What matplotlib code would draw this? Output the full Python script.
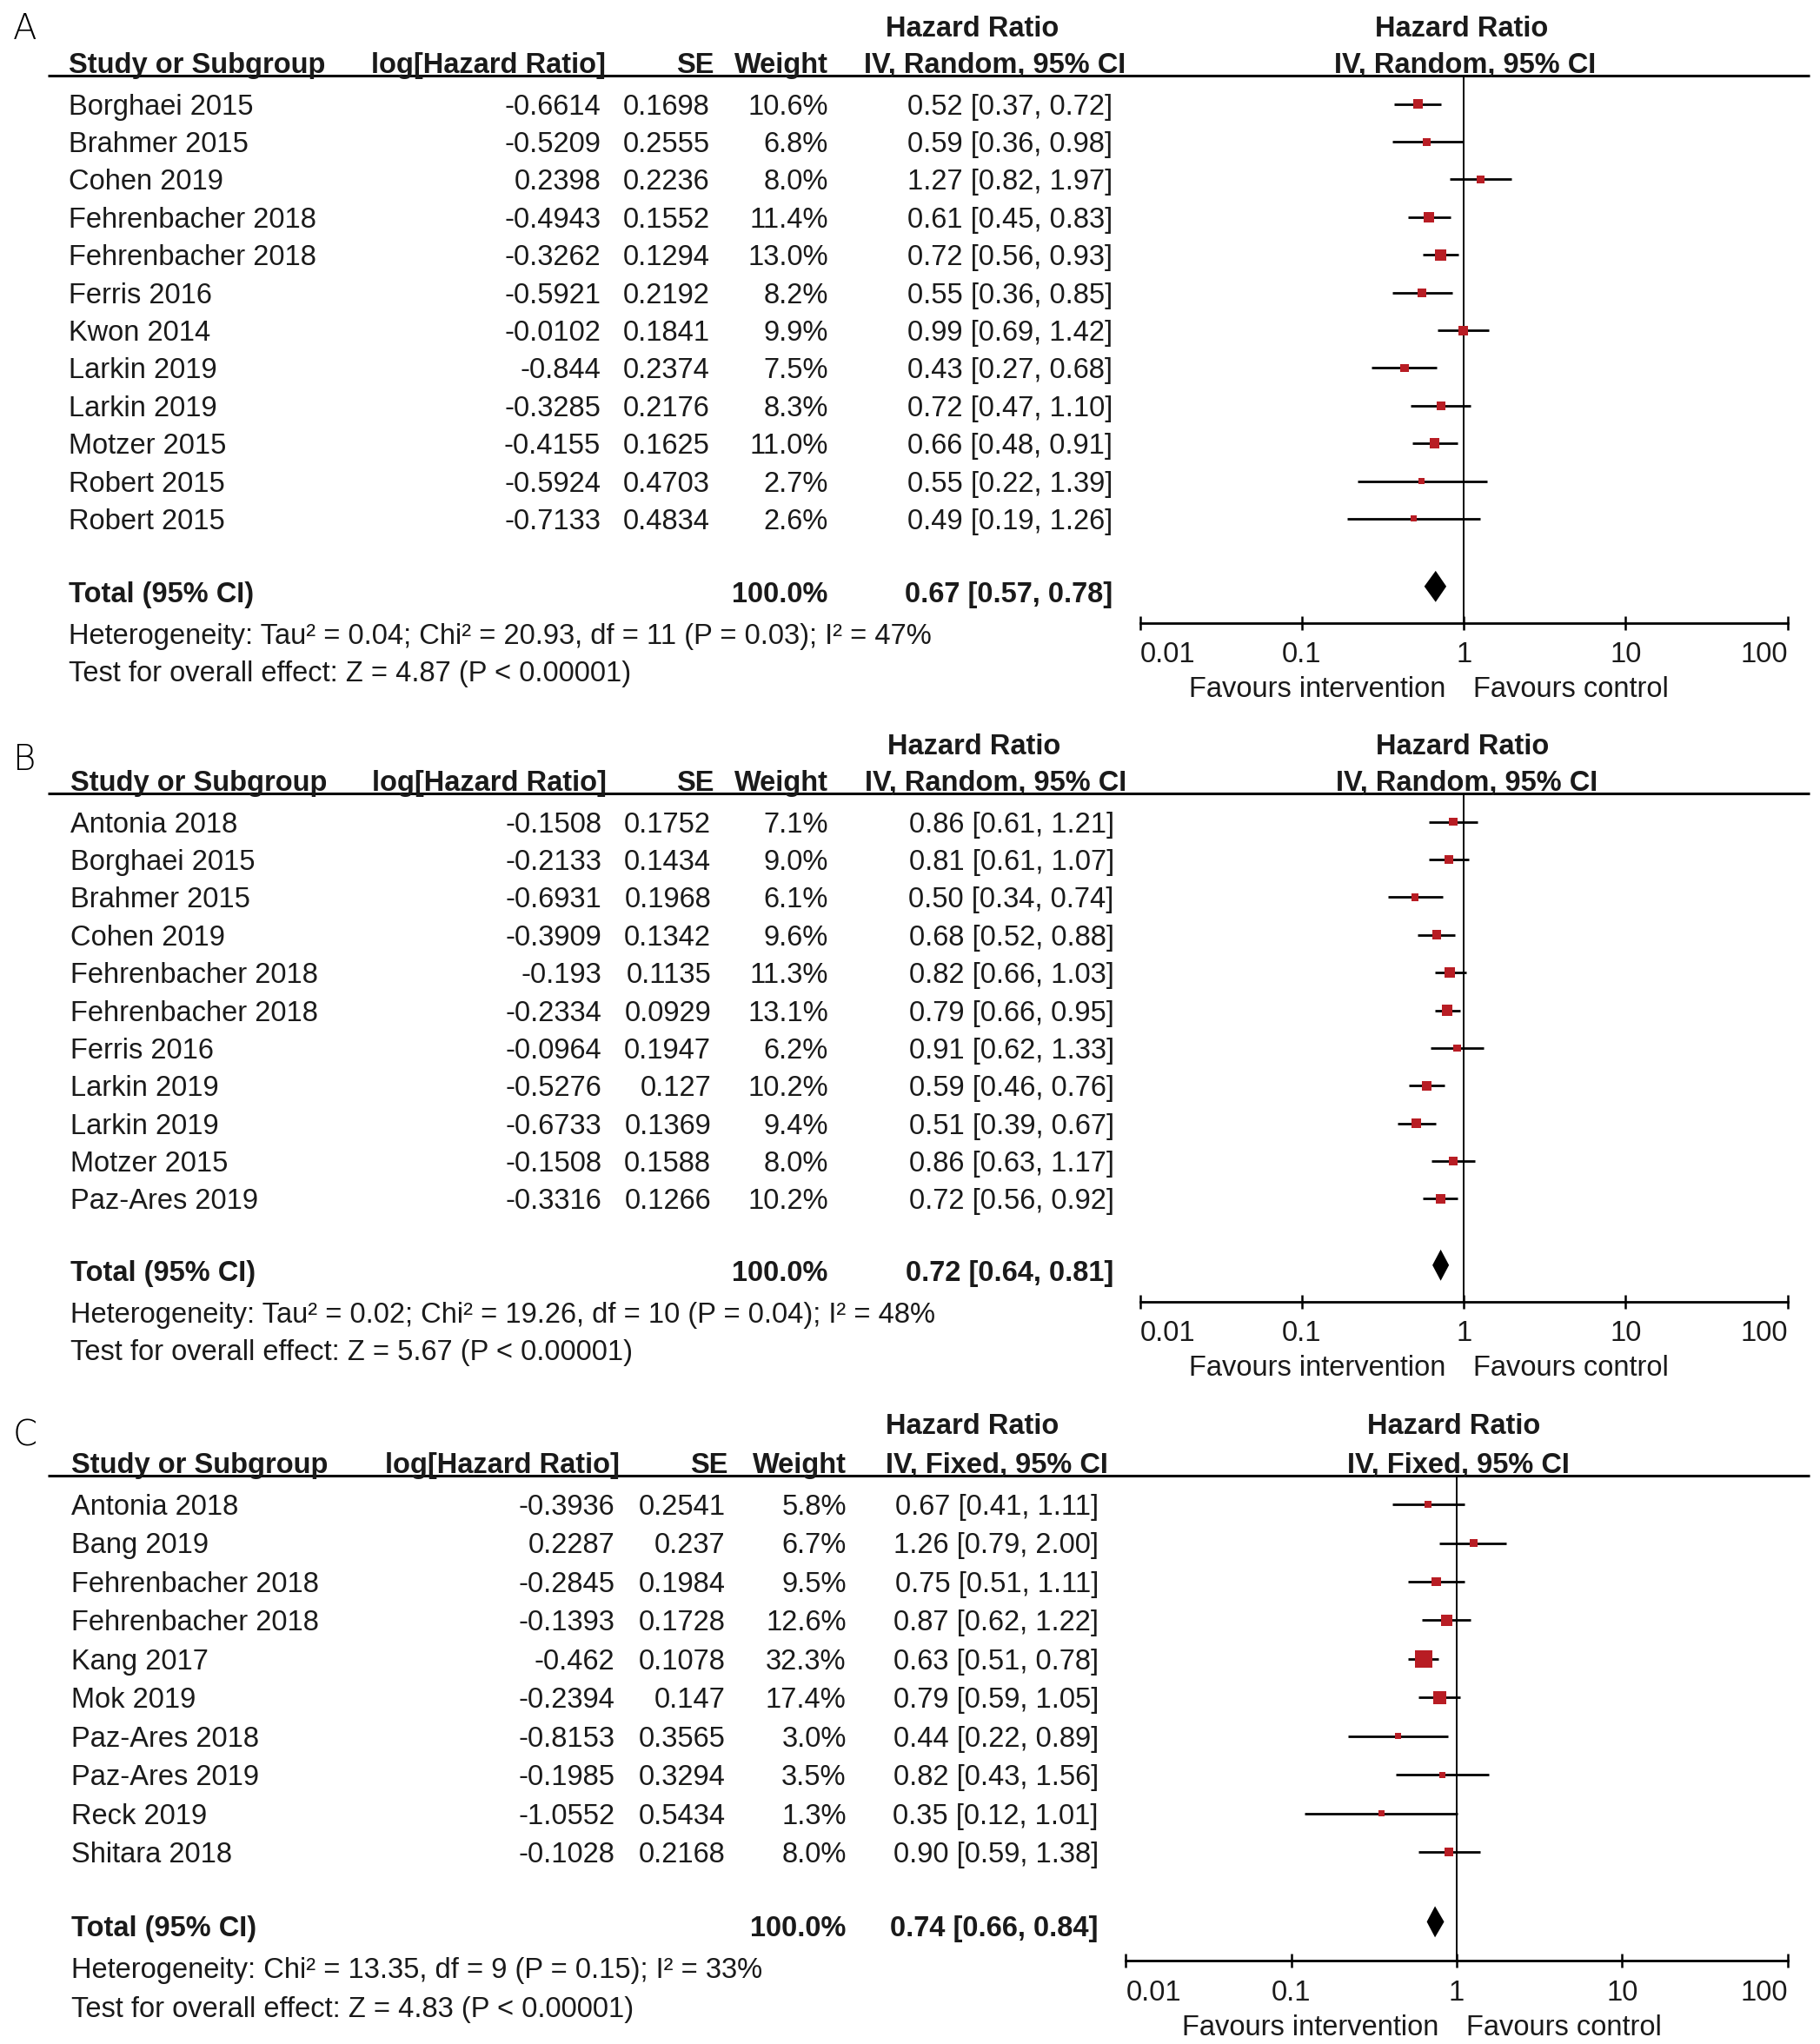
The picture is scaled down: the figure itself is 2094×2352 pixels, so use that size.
"""Three-panel forest plot (RevMan style) for hazard ratios, panels A/B/C."""
import matplotlib
matplotlib.use("Agg")
import matplotlib.pyplot as plt
import numpy as np
from matplotlib.ticker import NullLocator

plt.rcParams["font.family"] = ["Liberation Sans", "DejaVu Sans"]

# ---- panel A: random effects ----
a_study = ["Borghaei 2015", "Brahmer 2015", "Cohen 2019", "Fehrenbacher 2018",
           "Fehrenbacher 2018", "Ferris 2016", "Kwon 2014", "Larkin 2019",
           "Larkin 2019", "Motzer 2015", "Robert 2015", "Robert 2015"]
a_loghr = [-0.6614, -0.5209, 0.2398, -0.4943, -0.3262, -0.5921, -0.0102, -0.844,
           -0.3285, -0.4155, -0.5924, -0.7133]
a_se = [0.1698, 0.2555, 0.2236, 0.1552, 0.1294, 0.2192, 0.1841, 0.2374,
        0.2176, 0.1625, 0.4703, 0.4834]
a_weight = [10.6, 6.8, 8.0, 11.4, 13.0, 8.2, 9.9, 7.5, 8.3, 11.0, 2.7, 2.6]
a_hr = [0.52, 0.59, 1.27, 0.61, 0.72, 0.55, 0.99, 0.43, 0.72, 0.66, 0.55, 0.49]
a_lo = [0.37, 0.36, 0.82, 0.45, 0.56, 0.36, 0.69, 0.27, 0.47, 0.48, 0.22, 0.19]
a_hi = [0.72, 0.98, 1.97, 0.83, 0.93, 0.85, 1.42, 0.68, 1.10, 0.91, 1.39, 1.26]
a_total = [0.67, 0.57, 0.78]
a_het = "Heterogeneity: Tau² = 0.04; Chi² = 20.93, df = 11 (P = 0.03); I² = 47%"
a_test = "Test for overall effect: Z = 4.87 (P < 0.00001)"

# ---- panel B: random effects ----
b_study = ["Antonia 2018", "Borghaei 2015", "Brahmer 2015", "Cohen 2019",
           "Fehrenbacher 2018", "Fehrenbacher 2018", "Ferris 2016", "Larkin 2019",
           "Larkin 2019", "Motzer 2015", "Paz-Ares 2019"]
b_loghr = [-0.1508, -0.2133, -0.6931, -0.3909, -0.193, -0.2334, -0.0964, -0.5276,
           -0.6733, -0.1508, -0.3316]
b_se = [0.1752, 0.1434, 0.1968, 0.1342, 0.1135, 0.0929, 0.1947, 0.127,
        0.1369, 0.1588, 0.1266]
b_weight = [7.1, 9.0, 6.1, 9.6, 11.3, 13.1, 6.2, 10.2, 9.4, 8.0, 10.2]
b_hr = [0.86, 0.81, 0.50, 0.68, 0.82, 0.79, 0.91, 0.59, 0.51, 0.86, 0.72]
b_lo = [0.61, 0.61, 0.34, 0.52, 0.66, 0.66, 0.62, 0.46, 0.39, 0.63, 0.56]
b_hi = [1.21, 1.07, 0.74, 0.88, 1.03, 0.95, 1.33, 0.76, 0.67, 1.17, 0.92]
b_total = [0.72, 0.64, 0.81]
b_het = "Heterogeneity: Tau² = 0.02; Chi² = 19.26, df = 10 (P = 0.04); I² = 48%"
b_test = "Test for overall effect: Z = 5.67 (P < 0.00001)"

# ---- panel C: fixed effect ----
c_study = ["Antonia 2018", "Bang 2019", "Fehrenbacher 2018", "Fehrenbacher 2018",
           "Kang 2017", "Mok 2019", "Paz-Ares 2018", "Paz-Ares 2019", "Reck 2019",
           "Shitara 2018"]
c_loghr = [-0.3936, 0.2287, -0.2845, -0.1393, -0.462, -0.2394, -0.8153, -0.1985,
           -1.0552, -0.1028]
c_se = [0.2541, 0.237, 0.1984, 0.1728, 0.1078, 0.147, 0.3565, 0.3294, 0.5434, 0.2168]
c_weight = [5.8, 6.7, 9.5, 12.6, 32.3, 17.4, 3.0, 3.5, 1.3, 8.0]
c_hr = [0.67, 1.26, 0.75, 0.87, 0.63, 0.79, 0.44, 0.82, 0.35, 0.90]
c_lo = [0.41, 0.79, 0.51, 0.62, 0.51, 0.59, 0.22, 0.43, 0.12, 0.59]
c_hi = [1.11, 2.00, 1.11, 1.22, 0.78, 1.05, 0.89, 1.56, 1.01, 1.38]
c_total = [0.74, 0.66, 0.84]
c_het = "Heterogeneity: Chi² = 13.35, df = 9 (P = 0.15); I² = 33%"
c_test = "Test for overall effect: Z = 4.83 (P < 0.00001)"

TICKS = [0.01, 0.1, 1, 10, 100]
TICK_LABELS = ["0.01", "0.1", "1", "10", "100"]

W, H = 1400.0, 1572.0        # layout units (figure is drawn 2094 x 2352 px)
TXT = "#1a1a1a"
RED = "#b81d24"
FS = 23.5
BASE = 8                      # baseline offset from row centre, layout units

LAYOUT = {
    "A": dict(letter_y=20, hdr1=20, hdr2=48, line=58, row0=80, dy=29.0, total=455,
              diamond=451, het=487, test=516, axis=479, fav=528, x0=877, x1=1375,
              null=1126, name=53, log_r=462, se_r=546, wt_r=637, ci_r=856,
              h_log=466, h_se=549, h_wt=637, h_hr1=748, h_ci=765, f_hr1=1124, f_ci=1127),
    "B": dict(letter_y=582, hdr1=572, hdr2=600, line=610, row0=632, dy=29.0, total=977,
              diamond=973, het=1009, test=1038, axis=1001, fav=1050, x0=877, x1=1375,
              null=1126, name=54, log_r=463, se_r=547, wt_r=637, ci_r=857,
              h_log=467, h_se=549, h_wt=637, h_hr1=749, h_ci=766, f_hr1=1125, f_ci=1128),
    "C": dict(letter_y=1102, hdr1=1095, hdr2=1125, line=1135, row0=1157, dy=29.7,
              total=1481, diamond=1478, het=1513, test=1543, axis=1508, fav=1557,
              x0=866, x1=1375, null=1121, name=55, log_r=473, se_r=558, wt_r=651,
              ci_r=845, h_log=477, h_se=560, h_wt=651, h_hr1=748, h_ci=767,
              f_hr1=1118, f_ci=1122),
}


def txt(ax, x, y, s, ha="left", bold=False, size=FS):
    ax.text(x, y + BASE, s, ha=ha, va="baseline", fontsize=size, color=TXT,
            fontweight="bold" if bold else "normal")


def draw_panel(fig, bg, letter, method, study, loghr, se, weight, hr, lo, hi,
               total, het, test):
    L = LAYOUT[letter]
    ys = L["row0"] + L["dy"] * np.arange(len(study))

    bg.text(10, L["letter_y"] + 10, letter, fontsize=29, color="black",
            ha="left", va="baseline", family="DejaVu Sans", fontweight="light")

    # headers
    txt(bg, L["h_hr1"], L["hdr1"], "Hazard Ratio", ha="center", bold=True)
    txt(bg, L["f_hr1"], L["hdr1"], "Hazard Ratio", ha="center", bold=True)
    txt(bg, L["name"], L["hdr2"], "Study or Subgroup", bold=True)
    txt(bg, L["h_log"], L["hdr2"], "log[Hazard Ratio]", ha="right", bold=True)
    txt(bg, L["h_se"], L["hdr2"], "SE", ha="right", bold=True)
    txt(bg, L["h_wt"], L["hdr2"], "Weight", ha="right", bold=True)
    txt(bg, L["h_ci"], L["hdr2"], f"IV, {method}, 95% CI", ha="center", bold=True)
    txt(bg, L["f_ci"], L["hdr2"], f"IV, {method}, 95% CI", ha="center", bold=True)
    bg.hlines(L["line"], 37, 1392, color="black", lw=2.2)

    # study rows
    for y, s, lg, e, w, h, l, u in zip(ys, study, loghr, se, weight, hr, lo, hi):
        txt(bg, L["name"], y, s)
        txt(bg, L["log_r"], y, str(lg), ha="right")
        txt(bg, L["se_r"], y, str(e), ha="right")
        txt(bg, L["wt_r"], y, f"{w:.1f}%", ha="right")
        txt(bg, L["ci_r"], y, f"{h:.2f} [{l:.2f}, {u:.2f}]", ha="right")

    t_hr, t_lo, t_hi = total
    txt(bg, L["name"], L["total"], "Total (95% CI)", bold=True)
    txt(bg, L["wt_r"], L["total"], "100.0%", ha="right", bold=True)
    txt(bg, L["ci_r"], L["total"], f"{t_hr:.2f} [{t_lo:.2f}, {t_hi:.2f}]",
        ha="right", bold=True)
    txt(bg, L["name"], L["het"], het)
    txt(bg, L["name"], L["test"], test)

    txt(bg, L["null"] - 14, L["fav"], "Favours intervention", ha="right")
    txt(bg, L["null"] + 7, L["fav"], "Favours control")

    # forest axes
    top, bot = L["line"], L["axis"]
    ax = fig.add_axes([L["x0"] / W, 1 - bot / H, (L["x1"] - L["x0"]) / W,
                       (bot - top) / H])
    ax.set_xscale("log")
    ax.set_xlim(0.01, 100)
    ax.set_ylim(bot, top)
    ax.patch.set_alpha(0)
    for sp in ["top", "left", "right"]:
        ax.spines[sp].set_visible(False)
    ax.spines["bottom"].set_linewidth(2.0)
    ax.set_yticks([])
    ax.set_xticks(TICKS)
    ax.set_xticklabels(TICK_LABELS)
    ax.xaxis.set_minor_locator(NullLocator())
    ax.tick_params(axis="x", direction="inout", length=11, width=1.8, pad=10,
                   labelsize=FS, colors="black", labelcolor=TXT)
    labs = ax.get_xticklabels()
    labs[0].set_ha("left")
    labs[-1].set_ha("right")

    ax.vlines(1, top, bot, color="black", lw=1.4)
    ax.hlines(ys, lo, hi, color="black", lw=2.0, zorder=2)
    side_px = np.maximum(7.0, 3.5 * np.sqrt(np.array(weight)))
    ax.scatter(hr, ys, s=(side_px * 0.72) ** 2, marker="s", color=RED,
               linewidths=0, zorder=3)
    ty = L["diamond"]
    ax.fill([t_lo, t_hr, t_hi, t_hr], [ty, ty - 12, ty, ty + 12],
            color="black", lw=0, zorder=3)


def main():
    fig = plt.figure(figsize=(20.94, 23.52), dpi=100)
    bg = fig.add_axes([0, 0, 1, 1])
    bg.set_xlim(0, W)
    bg.set_ylim(H, 0)
    bg.axis("off")

    draw_panel(fig, bg, "A", "Random", a_study, a_loghr, a_se, a_weight,
               a_hr, a_lo, a_hi, a_total, a_het, a_test)
    draw_panel(fig, bg, "B", "Random", b_study, b_loghr, b_se, b_weight,
               b_hr, b_lo, b_hi, b_total, b_het, b_test)
    draw_panel(fig, bg, "C", "Fixed", c_study, c_loghr, c_se, c_weight,
               c_hr, c_lo, c_hi, c_total, c_het, c_test)

    fig.savefig("out.png", dpi=100)
    plt.close(fig)


if __name__ == "__main__":
    main()
